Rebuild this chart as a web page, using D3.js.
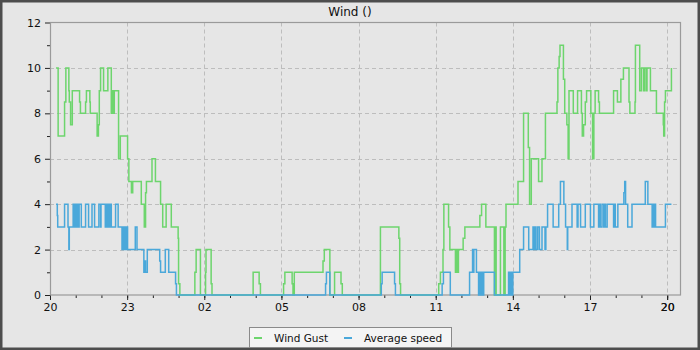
<!DOCTYPE html>
<html>
<head>
<meta charset="utf-8">
<script src="https://cdn.jsdelivr.net/npm/d3@7"></script>
<style>
  body { margin: 0; background: #e6e6e6; }
  svg { display: block; font-family: "DejaVu Sans", sans-serif; }
</style>
</head>
<body>
<svg id="chart" width="700" height="350"></svg>
<script>
// change points of each step series (HH:MM, evening of day 1 into day 2)
const gustTimes = [
  "20:14","20:19","20:34","20:37","20:44","20:45","20:48","20:52","21:09","21:11",
  "21:23","21:25","21:33","21:34","21:50","21:53","21:55","21:58","22:05","22:15",
  "22:23","22:26","22:28","22:30","22:40","22:44","23:01","23:04","23:10","23:13",
  "23:33","23:40","23:43","23:45","23:58","00:06","00:18","00:23","00:31","00:43",
  "00:59","01:00","01:03","01:38","01:41","01:51","02:03","02:04","02:16","02:18",
  "03:54","04:08","04:11","05:05","05:08","05:25","05:27","05:30","06:37","06:40",
  "06:53","07:04","07:19","07:22","08:51","09:34","09:36","09:38","11:07","11:11",
  "11:17","11:19","11:30","11:33","11:46","11:48","11:50","11:53","12:04","12:08",
  "12:43","12:47","12:57","13:17","13:19","13:21","13:31","13:39","13:42","13:44",
  "14:12","14:25","14:36","14:39","14:43","15:00","15:08","15:16","15:43","15:45",
  "15:48","15:50","15:58","16:01","16:06","16:09","16:11","16:21","16:31","16:40",
  "16:42","16:45","16:49","16:52","17:02","17:06","17:09","17:12","17:20","17:22",
  "17:55","18:04","18:12","18:18","18:31","18:33","18:45","18:46","18:56","19:00",
  "19:05","19:07","19:11","19:13","19:21","19:35","19:51","19:52","19:54","19:56",
  "20:10"
];
const gustValues = [
  10,7,8.5,10,9,8.5,7.5,9,8.5,8,
  8.5,9,8.5,8,7,7.5,9,10,9,10,
  8,9,8,9,6,7,6,5,4.5,5,
  4,3,4.5,5,6,5,4,3,4,3,
  2.5,0.5,0,1,2,0,1,2,0.5,0,
  1,0.5,0,0.5,1,0.5,0,1,1.5,2,
  0,1,0.5,0,3,2.5,0.5,0,0.5,1,
  2,4,3,2,1,2,1,2,2.5,3,
  3.5,4,3,0,3,0,3,0,3,4,
  5,8,6.5,4,6,5,6,8,8.5,10,
  10.5,11,9.5,8,7.5,6,9,8,9,8,
  7,7.5,8.5,9,8,6,8,9,8.5,8,
  9,8.5,9.5,10,8.5,8,8.5,11,9,10,
  9,10,9,10,9,8,7.5,7,8.5,9,
  10
];

const avgTimes = [
  "20:14","20:17","20:18","20:34","20:42","20:44","20:45","20:54","20:57","20:59",
  "21:02","21:03","21:06","21:08","21:13","21:23","21:30","21:38","21:44","21:54",
  "21:58","21:59","22:09","22:11","22:12","22:14","22:17","22:19","22:21","22:22",
  "22:23","22:33","22:39","22:48","22:50","22:51","22:54","22:56","22:58","23:01",
  "23:19","23:23","23:39","23:41","23:43","23:47","00:16","00:18","00:29","00:37",
  "00:53","00:55","06:43","06:45","06:53","08:53","08:55","09:24","09:26","11:15",
  "11:18","11:34","12:19","12:26","12:28","12:29","12:35","12:40","12:42","12:44",
  "12:47","12:49","12:52","13:17","13:50","13:53","13:55","13:58","14:00","14:16",
  "14:25","14:37","14:47","14:49","14:51","14:54","14:58","15:02","15:08","15:15",
  "15:17","15:21","15:34","15:47","15:51","15:59","16:03","16:07","16:08","16:18",
  "16:30","16:32","16:38","16:49","17:01","17:09","17:20","17:23","17:24","17:28",
  "17:32","17:34","17:36","17:40","17:55","17:57","17:59","18:05","18:19","18:21",
  "18:23","18:28","18:38","19:09","19:15","19:25","19:26","19:29","19:30","19:33",
  "19:56","20:10"
];
const avgValues = [
  4,3.5,3,4,3,2,3,4,3,4,
  3,4,3,4,3,4,3,4,3,4,
  3,4,3,4,3,4,3,4,3,4,
  3,4,3,2,3,2,3,2,3,2,
  3,2,1,1.5,1,2,1.5,1,2,1,
  0.5,0,0.5,1,0,0.5,1,0.5,0,0.5,
  1,0,1,2,1,2,1,0,1,0,
  1,0,1,0,1,0,1,0,1,2,
  3,2,3,2,3,2,3,2,3,2,
  3,4,3,4,5,4,3,2,3,4,
  3,4,3,4,3,4,3,4,3,4,
  3,4,3,4,3,4,3,4,4.5,5,
  4,3,4,5,4,3,4,3,4,3,
  4,4
];

const seriesNames = ["Wind Gust", "Average speed"];
const seriesColors = ["#6dd56d", "#4aa8da"];
const yTickValues = [0, 2, 4, 6, 8, 10, 12];
const chartTitle = "Wind ()";

// turn HH:MM strings into dates, rolling over midnight
function toDates(times) {
  let day = 0, prev = -1;
  return times.map(t => {
    const [h, m] = t.split(":").map(Number);
    const mins = h * 60 + m;
    if (mins < prev) day++;
    prev = mins;
    return new Date(2024, 0, 1 + day, h, m);
  });
}

const series = [
  { name: seriesNames[0], color: seriesColors[0],
    points: toDates(gustTimes).map((d, i) => ({ t: d, v: gustValues[i] })) },
  { name: seriesNames[1], color: seriesColors[1],
    points: toDates(avgTimes).map((d, i) => ({ t: d, v: avgValues[i] })) }
];

const W = 700, H = 350;
const margin = { top: 22.5, right: 20, bottom: 55, left: 50 };
const plotL = margin.left, plotR = W - margin.right, plotT = margin.top, plotB = H - margin.bottom;

const svg = d3.select("#chart");

// outer frame
svg.append("rect")
  .attr("x", 1.25).attr("y", 1.25)
  .attr("width", W - 2.5).attr("height", H - 2.5)
  .attr("fill", "#e6e6e6")
  .attr("stroke", "#4d4d4d")
  .attr("stroke-width", 2.5);

svg.append("text")
  .attr("x", 350).attr("y", 16)
  .attr("text-anchor", "middle")
  .attr("font-size", 12)
  .attr("fill", "#111")
  .text(chartTitle);

const t0 = new Date(2024, 0, 1, 20, 0);
const t1 = new Date(2024, 0, 2, 20, 30);

const x = d3.scaleTime().domain([t0, t1]).range([plotL, plotR]);
const y = d3.scaleLinear().domain([0, 12]).range([plotB, plotT]);

const majorX = d3.timeHour.range(t0, t1, 3);
const minorX = d3.timeHour.range(t0, t1, 1);
const minorY = d3.range(1, 12, 2);

// grid
const grid = svg.append("g")
  .attr("stroke", "#bdbdbd")
  .attr("stroke-dasharray", "4,3")
  .attr("stroke-width", 1);

grid.selectAll(".gx")
  .data(majorX.slice(1))
  .join("line")
  .attr("x1", d => Math.round(x(d)) + 0.5).attr("x2", d => Math.round(x(d)) + 0.5)
  .attr("y1", plotT).attr("y2", plotB);

grid.selectAll(".gy")
  .data(yTickValues.slice(1, -1))
  .join("line")
  .attr("y1", d => Math.round(y(d)) + 0.5).attr("y2", d => Math.round(y(d)) + 0.5)
  .attr("x1", plotL).attr("x2", plotR);

// minor ticks
svg.append("g")
  .attr("transform", `translate(0,${plotB})`)
  .call(d3.axisBottom(x).tickValues(minorX).tickSize(3).tickFormat(""))
  .call(g => g.select(".domain").remove());

svg.append("g")
  .attr("transform", `translate(${plotL},0)`)
  .call(d3.axisLeft(y).tickValues(minorY).tickSize(3).tickFormat(""))
  .call(g => g.select(".domain").remove());

// major axes
const xAxis = svg.append("g")
  .attr("transform", `translate(0,${plotB})`)
  .call(d3.axisBottom(x).tickValues(majorX.concat([new Date(2024, 0, 2, 20, 0)]))
    .tickSize(5).tickPadding(3).tickFormat(d3.timeFormat("%H")));
xAxis.select(".domain").remove();

const yAxis = svg.append("g")
  .attr("transform", `translate(${plotL},0)`)
  .call(d3.axisLeft(y).tickValues(yTickValues).tickSize(5).tickPadding(4));
yAxis.select(".domain").remove();

svg.selectAll(".tick text")
  .attr("font-family", "DejaVu Sans, sans-serif")
  .attr("font-size", 11)
  .attr("fill", "#111");
svg.selectAll(".tick line").attr("stroke", "#222");

// plot frame
svg.append("rect")
  .attr("x", plotL + 0.5).attr("y", plotT)
  .attr("width", plotR - plotL).attr("height", plotB - plotT)
  .attr("fill", "none")
  .attr("stroke", "#9a9a9a")
  .attr("stroke-width", 1.2);

// step lines
const line = d3.line()
  .curve(d3.curveStepAfter)
  .x(d => x(d.t))
  .y(d => y(d.v));

svg.append("g")
  .selectAll("path")
  .data(series)
  .join("path")
  .attr("d", d => line(d.points))
  .attr("fill", "none")
  .attr("stroke", d => d.color)
  .attr("stroke-width", 1.5);

// legend
const legend = svg.append("g");
legend.append("rect")
  .attr("x", 249.5).attr("y", 327.5)
  .attr("width", 202).attr("height", 20)
  .attr("fill", "#f4f4f4")
  .attr("stroke", "#8a8a8a");

const legendX = [254, 344];
series.forEach((s, i) => {
  legend.append("line")
    .attr("x1", legendX[i]).attr("x2", legendX[i] + 8)
    .attr("y1", 338).attr("y2", 338)
    .attr("stroke", s.color)
    .attr("stroke-width", 2);
  legend.append("text")
    .attr("x", legendX[i] + 20).attr("y", 341.5)
    .attr("font-size", 10.5)
    .attr("fill", "#111")
    .text(s.name);
});
</script>
</body>
</html>
